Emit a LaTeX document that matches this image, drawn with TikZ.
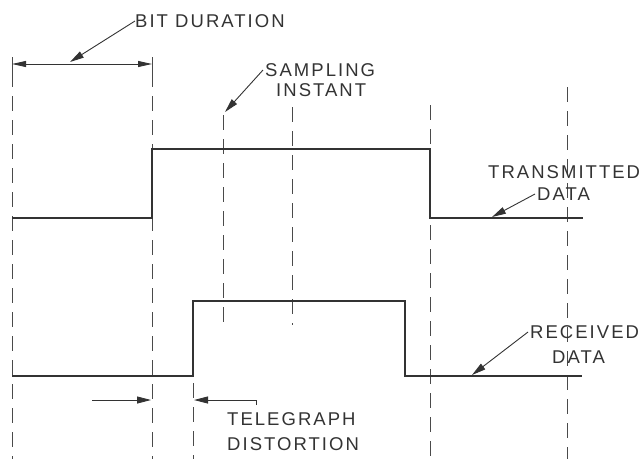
\documentclass[tikz,border=0pt]{standalone}
\usepackage{fontspec}
\newfontfamily\tdfont{Liberation Sans}[LetterSpace=11]
\usetikzlibrary{arrows.meta}
\definecolor{tdInk}{HTML}{333333}
\definecolor{tdGuide}{HTML}{4A4A4A}
\tikzset{
  td signal/.style={draw=tdInk, line width=2.4pt, line join=miter},
  td guide/.style={draw=tdGuide, line width=0.9pt, dash pattern=on 15pt off 9pt},
  td tick/.style={draw=tdGuide, line width=0.9pt},
  td leader/.style={draw=tdInk, line width=0.9pt, -{Triangle[length=14pt,width=7pt]}},
  td dim/.style={draw=tdInk, line width=0.9pt, {Triangle[length=14pt,width=6pt]}-{Triangle[length=14pt,width=6pt]}},
  td label/.style={font=\tdfont\fontsize{18.5}{24}\selectfont, text=tdInk, inner sep=0pt, anchor=west},
}
\begin{document}
\begin{tikzpicture}[x=1pt,y=-1pt]
  \useasboundingbox (0,0) rectangle (644,459);
  % guides
  \foreach \gx/\gt/\gb in {12/72/459, 152/72/459, 223/115/330, 292/107/325, 430/105/459, 567/87/459, 193/383/459}{
    \draw[td guide] (\gx,\gt) -- (\gx,\gb);
  }
  \foreach \gx in {12,152}{\draw[td tick] (\gx,57) -- (\gx,72);}
  % transmitted data
  \coordinate (t0) at (12,218);
  \coordinate (t1) at (152,218);
  \coordinate (t2) at (152,149);
  \coordinate (t3) at (430,149);
  \coordinate (t4) at (430,218);
  \coordinate (t5) at (583,218);
  \draw[td signal] (t0) -- (t1) -- (t2) -- (t3) -- (t4) -- (t5);
  % received data
  \coordinate (r0) at (12,376);
  \coordinate (r1) at (193,376);
  \coordinate (r2) at (193,301);
  \coordinate (r3) at (405,301);
  \coordinate (r4) at (405,376);
  \coordinate (r5) at (582,376);
  \draw[td signal] (r0) -- (r1) -- (r2) -- (r3) -- (r4) -- (r5);
  % bit duration
  \coordinate (bitL) at (12,64);
  \coordinate (bitR) at (152,64);
  \draw[td dim] (bitL) -- (bitR);
  \node[td label] (bitlbl) at (135,21) {BIT DURATION};
  \coordinate (bitpt) at (70,62);
  \draw[td leader] (bitlbl.west) -- (bitpt);
  % sampling instant
  \node[td label] (samptop) at (265,70) {SAMPLING};
  \node[td label] (sampbot) at (276,90) {INSTANT};
  \coordinate (samppt) at (225,112);
  \draw[td leader] ([xshift=-2pt]samptop.west) -- (samppt);
  % transmitted label
  \node[td label] (txtop) at (488,172) {TRANSMITTED};
  \node[td label] (txdata) at (537,194) {DATA};
  \coordinate (txpt) at (492,217);
  \draw[td leader] ([xshift=-2pt]txdata.west) -- (txpt);
  % received label
  \node[td label] (rxtop) at (530,332) {RECEIVED};
  \node[td label] (rxdata) at (552,357) {DATA};
  \coordinate (rxpt) at (472,375);
  \draw[td leader] ([xshift=-2pt]rxtop.west) -- (rxpt);
  % telegraph distortion
  \coordinate (tdA) at (92,400);
  \coordinate (tdB) at (151,400);
  \draw[td leader] (tdA) -- (tdB);
  \coordinate (tdC) at (256,405);
  \coordinate (tdD) at (256,400);
  \coordinate (tdE) at (194,400);
  \draw[td leader] (tdC) -- (tdD) -- (tdE);
  \node[td label] (tellbl) at (227,419) {TELEGRAPH};
  \node[td label] (distlbl) at (227,444) {DISTORTION};
\end{tikzpicture}
\end{document}
